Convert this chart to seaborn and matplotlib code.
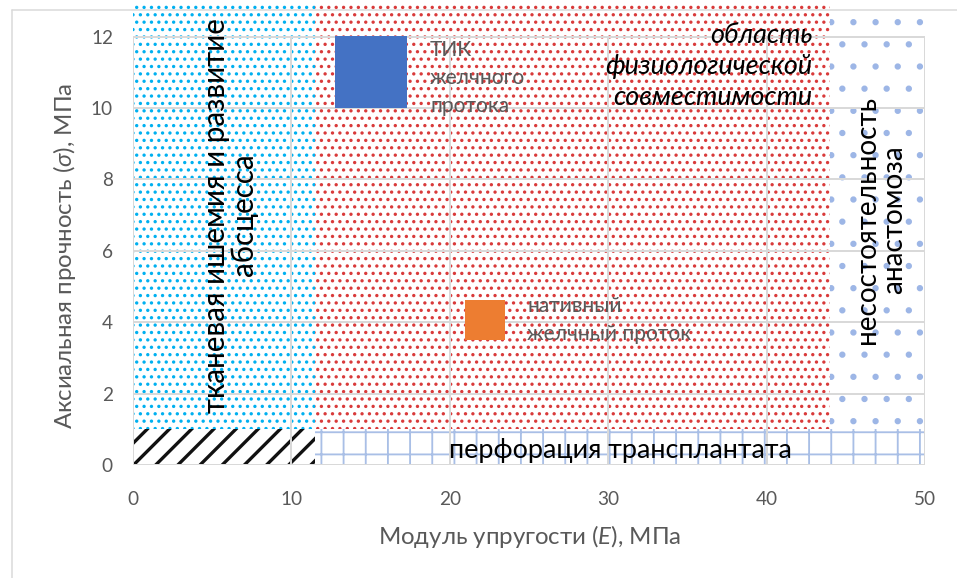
import matplotlib
matplotlib.use("Agg")
import matplotlib.pyplot as plt
import seaborn as sns
from matplotlib.patches import Rectangle
from matplotlib.lines import Line2D

# Zone boundaries: elastic modulus E (MPa) and axial strength sigma (MPa)
e_ischemia = 11.5
e_failure = 44.0
e_max = 50.0
sigma_perforation = 1.0
sigma_max = 12.0
sigma_top = 12.9

# Measured points
point_names = ["ТИК\nжелчного\nпротока", "нативный\nжелчный проток"]
point_E = [15.0, 22.2]
point_sigma = [11.0, 4.05]
point_colors = ["#4472C4", "#ED7D31"]

x_ticks = [0, 10, 20, 30, 40, 50]
y_ticks = [0, 2, 4, 6, 8, 10, 12]

DPI = 133
W, H = 957, 578


def px(v):
    """Pixel size -> points for this figure's dpi."""
    return v * 72.0 / DPI


sns.set_theme(style="white")
plt.rcParams["font.family"] = ["Lato", "DejaVu Sans"]
plt.rcParams["mathtext.fontset"] = "custom"
plt.rcParams["mathtext.it"] = "Lato:italic"
plt.rcParams["mathtext.rm"] = "Lato"
plt.rcParams["hatch.linewidth"] = 1.0

fig = plt.figure(figsize=(W / DPI, H / DPI), dpi=DPI)
fig.patch.set_facecolor("white")

# chart frame
fig.add_artist(Line2D([12 / W, 12 / W], [0, 1 - 10 / H], color="#d9d9d9", lw=px(1.5)))
fig.add_artist(Line2D([12 / W, 1], [1 - 10 / H, 1 - 10 / H], color="#d9d9d9", lw=px(1.5)))

ax_left, ax_right = 133, 925
ax_bottom, ax_top = 465, 4.5
ax = fig.add_axes([ax_left / W, 1 - ax_bottom / H,
                   (ax_right - ax_left) / W, (ax_bottom - ax_top) / H])
ax.set_xlim(0, e_max)
ax.set_ylim(0, sigma_top)
ax.set_facecolor("none")

zones = [
    # (x0, y0, width, height, hatch, hatch colour)
    (0, sigma_perforation, e_ischemia, sigma_top - sigma_perforation, "...", "#00B0F0"),
    (e_ischemia, sigma_perforation, e_failure - e_ischemia, sigma_top - sigma_perforation, "...", "#D93A3A"),
    (e_failure, sigma_perforation, e_max - e_failure, sigma_top - sigma_perforation, ".", "#9DB6E6"),
    (0, 0, e_ischemia, sigma_perforation, "//", "#111111"),
    (e_ischemia, 0, e_max - e_ischemia, sigma_perforation, "+", "#A9BFE6"),
]
for x0, y0, w, h, hatch, col in zones:
    r = Rectangle((x0, y0), w, h, facecolor="white", edgecolor=col,
                  hatch=hatch, lw=0, zorder=1)
    if hatch == "//" and hasattr(r, "set_hatch_linewidth"):
        r.set_hatch_linewidth(1.8)
    ax.add_patch(r)

# gridlines over the zones
grid_col = "#d9d9d9"
ax.hlines(y_ticks, 0, e_max, color=grid_col, lw=px(2), zorder=2)
ax.vlines(x_ticks, 0, sigma_max, color=grid_col, lw=px(2), zorder=2)

# measured points
sns.scatterplot(x=[point_E[0]], y=[point_sigma[0]], marker="s", s=px(72) ** 2,
                color=point_colors[0], linewidth=0, ax=ax, zorder=4)
sns.scatterplot(x=[point_E[1]], y=[point_sigma[1]], marker="s", s=px(40) ** 2,
                color=point_colors[1], linewidth=0, ax=ax, zorder=4)

label_col = "#595959"
ax.text(18.75, 10.84, point_names[0], ha="left", va="center", fontsize=px(21),
        color=label_col, linespacing=1.5, zorder=5)
ax.text(24.9, 4.06, point_names[1], ha="left", va="center", fontsize=px(21),
        color=label_col, linespacing=1.5, zorder=5)

# zone captions
ax.text(6.1, 7.0, "тканевая ишемия и развитие\nабсцесса", rotation=90,
        ha="center", va="center", multialignment="center", fontsize=px(29.5),
        color="black", linespacing=1.0, zorder=5)
ax.text(47.2, 6.86, "несостоятельность\nанастомоза", rotation=90,
        ha="center", va="center", multialignment="center", fontsize=px(28),
        color="black", linespacing=1.05, zorder=5)
ax.text(30.8, 0.42, "перфорация трансплантата", ha="center", va="center",
        fontsize=px(27), color="black", zorder=5)
ax.text(42.9, 11.15, "область\nфизиологической\nсовместимости", ha="right",
        va="center", multialignment="right", fontsize=px(27), style="italic",
        color="black", linespacing=1.3, zorder=5)

for s in ax.spines.values():
    s.set_visible(False)
ax.set_xticks(x_ticks)
ax.set_yticks(y_ticks)
ax.tick_params(axis="both", length=0, labelsize=px(19), labelcolor=label_col)
ax.tick_params(axis="x", pad=px(26))
ax.tick_params(axis="y", pad=px(20))

ax.set_xlabel(r"Модуль упругости ($\mathit{E}$), МПа", fontsize=px(24), color=label_col)
ax.set_ylabel(r"Аксиальная прочность ($\mathit{\sigma}$), МПа", fontsize=px(24), color=label_col)
ax.xaxis.label.set_va("center")
ax.yaxis.label.set_va("center")
ax.xaxis.set_label_coords((530 - ax_left) / (ax_right - ax_left),
                          (ax_bottom - 537) / (ax_bottom - ax_top))
ax.yaxis.set_label_coords((65 - ax_left) / (ax_right - ax_left),
                          (ax_bottom - 256) / (ax_bottom - ax_top))

fig.savefig("out.png", dpi=DPI)
